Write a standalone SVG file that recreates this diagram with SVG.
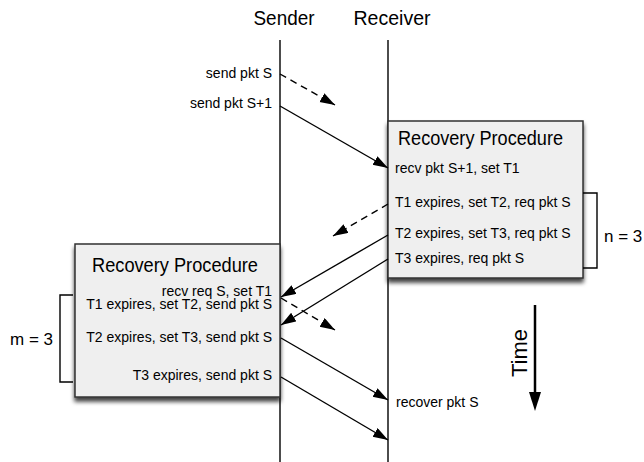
<svg xmlns="http://www.w3.org/2000/svg" width="644" height="462" viewBox="0 0 644 462">
  <style>
    text { font-family: "Liberation Sans", Arial, Helvetica, sans-serif; fill: #000; }
    .head { font-size: 21px; text-anchor: middle; }
    .title { font-size: 19.5px; }
    .lbl { font-size: 14px; }
    .r { text-anchor: end; }
    .big { font-size: 17px; }
    .life { stroke: #000; stroke-width: 1.4; fill: none; }
    .msg { stroke: #000; stroke-width: 1.4; fill: none; marker-end: url(#arr); }
    .dash { stroke-dasharray: 7 5; }
    .box { fill: #efefef; stroke: #333; stroke-width: 1.5; filter: url(#shadow); }
    .brk { stroke: #000; stroke-width: 1.4; fill: none; }
  </style>
  <defs>
    <marker id="arr" markerUnits="userSpaceOnUse" markerWidth="16" markerHeight="12" refX="15" refY="5" orient="auto">
      <path d="M0,0 L15,5 L0,10 z" fill="#000"/>
    </marker>
    <filter id="shadow" x="-10%" y="-10%" width="125%" height="130%">
      <feDropShadow dx="0" dy="4" stdDeviation="2.2" flood-color="#000" flood-opacity="0.75"/>
    </filter>
  </defs>

  <rect width="644" height="462" fill="#fff"/>

  <!-- participants -->
  <g id="sender">
    <text class="head" x="284" y="25" textLength="61" lengthAdjust="spacingAndGlyphs">Sender</text>
    <line class="life" x1="280" y1="40" x2="280" y2="462"/>
  </g>
  <g id="receiver">
    <text class="head" x="392" y="25" textLength="77" lengthAdjust="spacingAndGlyphs">Receiver</text>
    <line class="life" x1="388" y1="40" x2="388" y2="462"/>
  </g>

  <!-- receiver-side recovery procedure -->
  <g id="receiver-recovery">
    <rect class="box" x="388" y="121" width="195" height="157"/>
    <text class="title" x="398" y="145" textLength="165" lengthAdjust="spacingAndGlyphs">Recovery Procedure</text>
    <text class="lbl" x="395" y="173">recv pkt S+1, set T1</text>
    <text class="lbl" x="395" y="207">T1 expires, set T2, req pkt S</text>
    <text class="lbl" x="395" y="238">T2 expires, set T3, req pkt S</text>
    <text class="lbl" x="395" y="263">T3 expires, req pkt S</text>
  </g>
  <g id="n-bracket">
    <path class="brk" d="M583,193 H597 V268 H583"/>
    <text class="big" x="604" y="242">n = 3</text>
  </g>

  <!-- sender-side recovery procedure -->
  <g id="sender-recovery">
    <rect class="box" x="75" y="244" width="205" height="153"/>
    <text class="title" x="92" y="272" textLength="166" lengthAdjust="spacingAndGlyphs">Recovery Procedure</text>
    <text class="lbl r" x="272" y="296">recv req S, set T1</text>
    <text class="lbl r" x="272" y="309">T1 expires, set T2, send pkt S</text>
    <text class="lbl r" x="272" y="342">T2 expires, set T3, send pkt S</text>
    <text class="lbl r" x="272" y="380">T3 expires, send pkt S</text>
  </g>
  <g id="m-bracket">
    <path class="brk" d="M73,295 H60 V382 H73"/>
    <text class="big" x="10" y="345">m = 3</text>
  </g>

  <!-- sender labels -->
  <g id="sender-labels">
    <text class="lbl r" x="272" y="78">send pkt S</text>
    <text class="lbl r" x="272" y="108">send pkt S+1</text>
  </g>
  <g id="recover-label">
    <text class="lbl" x="396" y="407">recover pkt S</text>
  </g>

  <!-- messages -->
  <g id="connectors">
    <line class="msg dash" x1="280" y1="74" x2="335" y2="105"/>
    <line class="msg" x1="280" y1="106" x2="388" y2="168"/>
    <line class="msg dash" x1="388" y1="204" x2="333" y2="236"/>
    <line class="msg" x1="388" y1="235" x2="281" y2="297"/>
    <line class="msg" x1="388" y1="259" x2="281" y2="325"/>
    <line class="msg dash" x1="281" y1="298" x2="335" y2="330"/>
    <line class="msg" x1="281" y1="338" x2="388" y2="400"/>
    <line class="msg" x1="281" y1="377" x2="388" y2="440"/>
  </g>

  <!-- time axis -->
  <g id="time">
    <line x1="535" y1="305" x2="535" y2="395" stroke="#000" stroke-width="2.5"/>
    <path d="M529,392 L541,392 L535,411 z" fill="#000"/>
    <text x="527" y="353" font-size="22" text-anchor="middle" transform="rotate(-90 527 353)">Time</text>
  </g>
</svg>
